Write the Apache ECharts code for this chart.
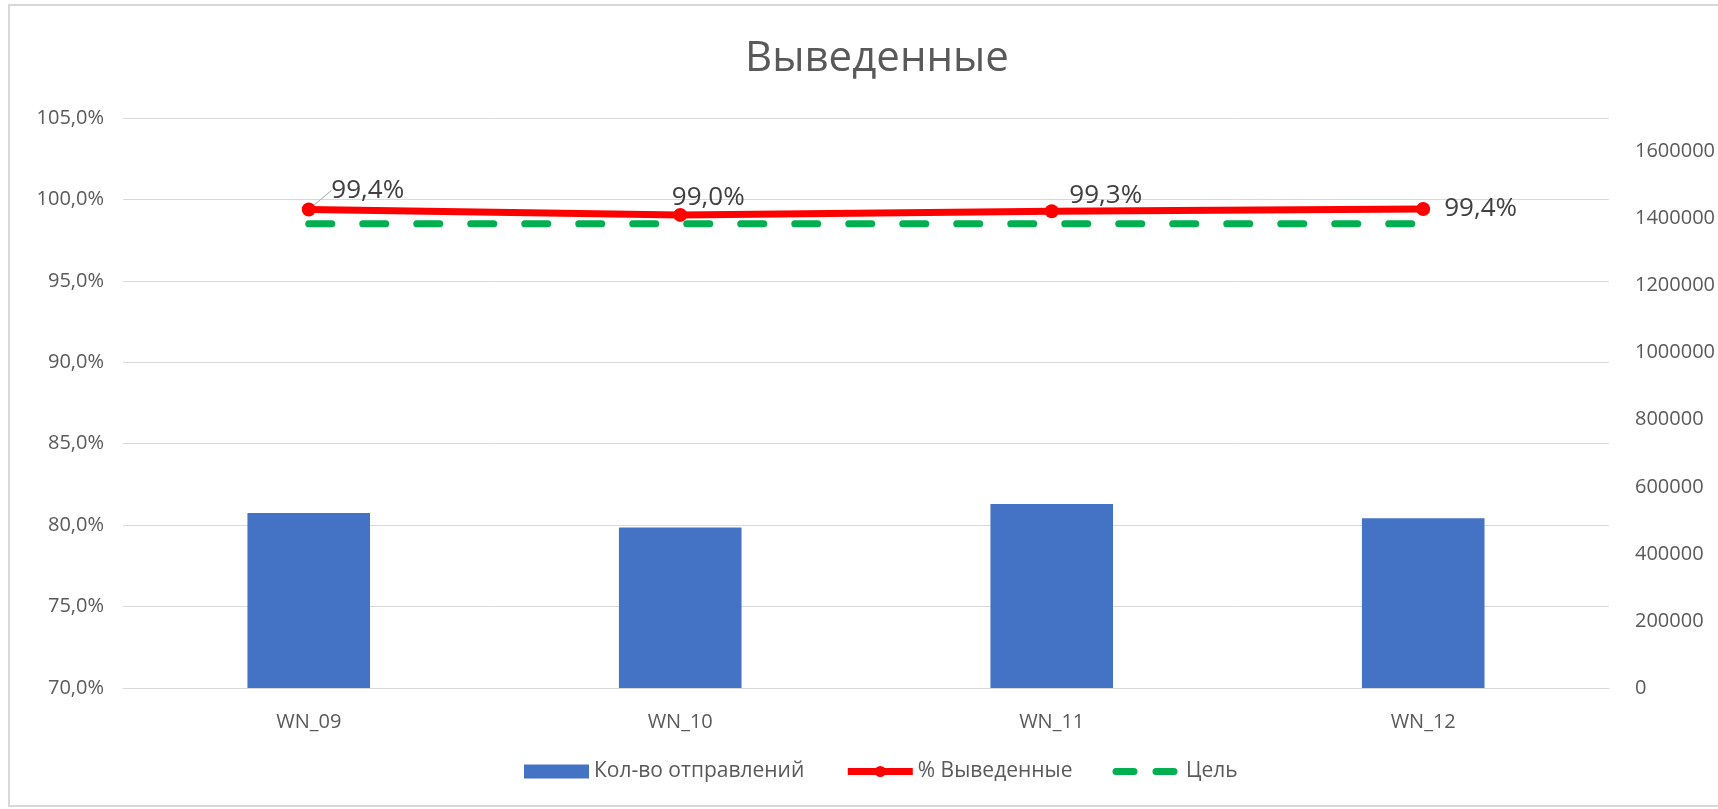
<!DOCTYPE html>
<html>
<head>
<meta charset="utf-8">
<script src="https://cdn.jsdelivr.net/npm/echarts@6/dist/echarts.min.js"></script>
<style>
  html, body { margin: 0; padding: 0; background: #fff; }
  #chart { width: 1718px; height: 809px; }
</style>
</head>
<body>
<div id="chart"></div>
<script>
var chartDom = document.getElementById('chart');
var myChart = echarts.init(chartDom);

var weeks = ['WN_09', 'WN_10', 'WN_11', 'WN_12'];
var shipments = [522000, 479000, 549000, 506000];   // Кол-во отправлений
var donePct = [99.38, 99.05, 99.27, 99.41];         // % Выведенные
var targetPct = [98.5, 98.5, 98.5, 98.5];           // Цель

var FONT = '"Open Sans", "Noto Sans", sans-serif';

function pct(v) {
  return v.toFixed(1).replace('.', ',') + '%';
}

// сдвиги подписей точек, как в исходной диаграмме
var labelShift = [[59, 6], [28, 8], [54, 9], null];
var doneData = donePct.map(function (v, i) {
  if (i === 0) {
    return {
      value: v,
      labelLine: { show: true, lineStyle: { color: '#a6a6a6', width: 1 } }
    };
  }
  if (i === 3) {
    return { value: v, label: { position: 'right', distance: 14 } };
  }
  return { value: v };
});

var option = {
  backgroundColor: '#fff',
  animation: false,
  title: {
    text: 'Выведенные',
    left: 872,
    top: 33,
    textAlign: 'center',
    textStyle: { fontFamily: FONT, fontSize: 42, fontWeight: 'normal', color: '#595959' }
  },
  graphic: [{
    type: 'rect',
    shape: { x: 9, y: 5, width: 1760, height: 801 },
    style: { fill: 'none', stroke: '#d9d9d9', lineWidth: 2 },
    silent: true
  }],
  legend: {
    bottom: 22,
    left: 519,
    itemWidth: 65,
    itemHeight: 14,
    itemGap: 40,
    textStyle: { fontFamily: FONT, fontSize: 21, color: '#595959' },
    data: [
      { name: 'Кол-во отправлений', icon: 'rect' },
      { name: '% Выведенные', lineStyle: { width: 7 } },
      { name: 'Цель', lineStyle: { width: 7, type: [18, 22] }, itemStyle: { opacity: 0 } }
    ]
  },
  grid: { left: 123, right: 105, top: 118, bottom: 121 },
  xAxis: {
    type: 'category',
    data: weeks,
    axisLine: { show: true, lineStyle: { color: '#d9d9d9' } },
    axisTick: { show: false },
    axisLabel: { fontFamily: FONT, fontSize: 20, color: '#595959', margin: 24 }
  },
  yAxis: [{
    type: 'value',
    min: 70,
    max: 105,
    interval: 5,
    axisLine: { show: false },
    axisTick: { show: false },
    splitLine: { lineStyle: { color: '#d9d9d9', width: 1 } },
    axisLabel: {
      fontFamily: FONT, fontSize: 20, color: '#595959', margin: 19,
      formatter: function (v) { return pct(v); }
    }
  }, {
    type: 'value',
    min: 0,
    max: 1700000,
    interval: 200000,
    axisLine: { show: false },
    axisTick: { show: false },
    splitLine: { show: false },
    axisLabel: {
      fontFamily: FONT, fontSize: 20, color: '#595959', margin: 26,
      showMaxLabel: false,
      formatter: function (v) { return String(v); }
    }
  }],
  series: [{
    name: 'Кол-во отправлений',
    type: 'bar',
    yAxisIndex: 1,
    data: shipments,
    barWidth: '33%',
    itemStyle: { color: '#4472c4' }
  }, {
    name: 'Цель',
    type: 'line',
    data: targetPct,
    symbol: 'none',
    lineStyle: { color: '#00b050', width: 7, type: [23, 31], cap: 'round' },
    itemStyle: { color: '#00b050' },
    z: 3
  }, {
    name: '% Выведенные',
    type: 'line',
    data: doneData,
    symbol: 'circle',
    symbolSize: 14,
    lineStyle: { color: '#ff0000', width: 7 },
    itemStyle: { color: '#ff0000' },
    label: {
      show: true,
      position: 'top',
      fontFamily: FONT,
      fontSize: 26,
      color: '#404040',
      formatter: function (p) { return pct(p.value); }
    },
    labelLayout: function (p) {
      var s = labelShift[p.dataIndex];
      return s ? { dx: s[0], dy: s[1] } : {};
    },
    z: 4
  }]
};

myChart.setOption(option);
</script>
</body>
</html>
